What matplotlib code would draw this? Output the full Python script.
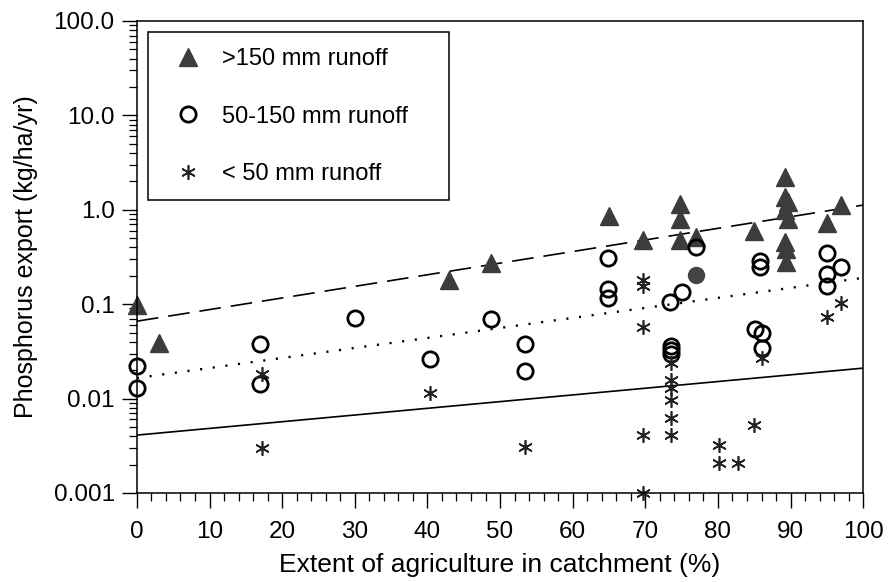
import matplotlib
matplotlib.use("Agg")
import matplotlib.pyplot as plt
from matplotlib.patches import Rectangle
from matplotlib.ticker import FixedLocator, FixedFormatter, MultipleLocator

plt.rcParams['font.family'] = ['Liberation Sans', 'DejaVu Sans']

# >150 mm runoff (filled triangles)
hi_x = [0, 3, 43, 48.7, 65, 69.7, 74.8, 74.8, 74.8, 77, 85,
        89.2, 89.2, 89.6, 89.2, 89.6, 89.2, 89.4, 89.4, 95, 97]
hi_y = [0.098, 0.039, 0.18, 0.27, 0.85, 0.48, 1.15, 0.8, 0.48, 0.52, 0.6,
        2.2, 1.35, 1.2, 1.0, 0.8, 0.46, 0.38, 0.28, 0.72, 1.12]

# 50-150 mm runoff (open circles)
mid_x = [0, 0, 17, 17, 30, 40.4, 48.8, 53.5, 53.5, 64.8, 64.8, 64.8,
         73.4, 75, 73.6, 73.6, 73.6, 77, 85.8, 85.8, 85.1, 86, 86,
         95, 97, 95, 95]
mid_y = [0.022, 0.013, 0.038, 0.0142, 0.071, 0.026, 0.069, 0.038, 0.0198,
         0.31, 0.145, 0.115, 0.106, 0.135, 0.036, 0.033, 0.030, 0.40,
         0.29, 0.245, 0.055, 0.049, 0.034, 0.345, 0.25, 0.21, 0.155]

# odd filled circle
odd_x = [77]
odd_y = [0.205]

# < 50 mm runoff (asterisks)
lo_x = [17.2, 17.2, 40.4, 53.5, 69.7, 69.7, 69.7, 69.7, 69.7,
        73.6, 73.6, 73.6, 73.6, 73.6, 73.6, 80.1, 80.1, 82.7, 85, 86, 95, 97]
lo_y = [0.018, 0.003, 0.0115, 0.0031, 0.18, 0.155, 0.057, 0.0041, 0.001,
        0.024, 0.0157, 0.013, 0.0096, 0.0062, 0.0041, 0.0032, 0.0021, 0.0021,
        0.0052, 0.027, 0.073, 0.103]

# fitted lines, end points
fit_x = [0, 100]
fit_hi = [0.066, 1.12]
fit_mid = [0.0165, 0.19]
fit_lo = [0.0041, 0.021]

ytick_vals = [0.001, 0.01, 0.1, 1, 10, 100]
ytick_labels = ['0.001', '0.01', '0.1', '1.0', '10.0', '100.0']

fig = plt.figure(figsize=(8.89, 5.82), dpi=100)
ax = fig.add_axes([0.154, 0.153, 0.817, 0.811])
ax.set_yscale('log')

ax.plot(fit_x, fit_hi, color='black', lw=1.2, dashes=(13, 6))
ax.plot(fit_x, fit_mid, color='black', lw=1.7, ls=(0, (0.9, 4.5)))
ax.plot(fit_x, fit_lo, color='black', lw=1.2)

ax.plot(hi_x, hi_y, ls='none', marker='^', ms=12.5, mfc='#3c3c3c',
        mec='#3c3c3c', label='>150 mm runoff', clip_on=False)
ax.plot(mid_x, mid_y, ls='none', marker='o', ms=11, mfc='none',
        mec='black', mew=2, label='50-150 mm runoff', clip_on=False)
ax.plot(odd_x, odd_y, ls='none', marker='o', ms=11.5, mfc='#444444',
        mec='#444444')
ax.plot(lo_x, lo_y, ls='none', marker=(6, 2, 0), ms=10.5, mec='#222222',
        mew=1.2, label='< 50 mm runoff', clip_on=False)

ax.set_xlim(0, 100)
ax.set_ylim(0.001, 100)
ax.xaxis.set_major_locator(MultipleLocator(10))
ax.xaxis.set_minor_locator(MultipleLocator(2))
ax.yaxis.set_major_locator(FixedLocator(ytick_vals))
ax.yaxis.set_major_formatter(FixedFormatter(ytick_labels))
ax.tick_params(axis='both', which='major', direction='out', length=11,
               width=1, labelsize=17.5, pad=5, top=False, right=False)
ax.tick_params(axis='x', which='major', pad=9.5)
ax.tick_params(axis='both', which='minor', direction='out', length=6,
               width=0.9, top=False, right=False)
ax.tick_params(axis='y', which='minor', labelleft=False)
for s in ax.spines.values():
    s.set_linewidth(1.1)

ax.set_xlabel('Extent of agriculture in catchment (%)', fontsize=19,
              labelpad=7)
ax.set_ylabel('Phosphorus export (kg/ha/yr)', fontsize=18)
ax.yaxis.set_label_coords(-0.136, 0.5)

leg = ax.legend(loc='upper left', bbox_to_anchor=(0.015, 0.977),
                frameon=False, fontsize=17, labelspacing=1.5,
                borderpad=0.7, handletextpad=0.45, borderaxespad=0,
                numpoints=1)
ax.add_patch(Rectangle((0.0152, 0.6208), 0.4146, 0.3559,
                       transform=ax.transAxes, fill=False,
                       edgecolor='black', lw=1.1, zorder=5))

fig.savefig('out.png', dpi=100)
